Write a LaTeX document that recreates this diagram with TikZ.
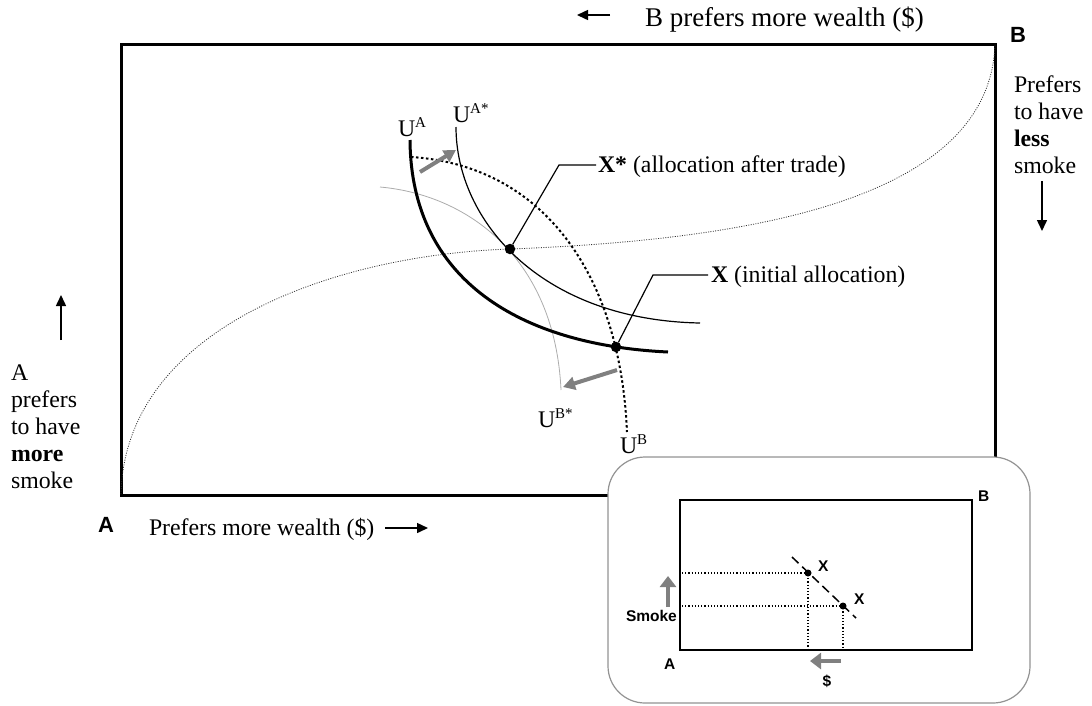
\documentclass[tikz,border=0pt]{standalone}
\usepackage{fontspec}
\setmainfont{Liberation Serif}
\newfontfamily\arialfont{Liberation Sans}
\usetikzlibrary{arrows.meta}
\newcommand\usup[1]{\raisebox{8.5pt}{\fontsize{15}{15}\selectfont #1}}
\begin{document}
\begin{tikzpicture}[x=1pt,y=-1pt,
  every node/.style={inner sep=0pt, outer sep=0pt},
  serif/.style={font=\fontsize{23.8}{27}\selectfont, anchor=base west},
  sanslbl/.style={font=\arialfont\bfseries\fontsize{22}{24}\selectfont, anchor=base west},
  insetlbl/.style={font=\arialfont\bfseries\fontsize{15.5}{17}\selectfont, anchor=base west},
  blackarrow/.style={line width=1.5pt, -{Triangle[length=11pt,width=10pt]}},
  grayarrow/.style={draw=gray, line width=4pt, -{Triangle[length=12pt,width=13pt]}},
  dotnode/.style={circle, fill=black, minimum size=10.5pt},
  smalldot/.style={circle, fill=black, minimum size=7pt},
  contract/.style={line width=0.8pt, dash pattern=on 1pt off 1.4pt, black!80},
  ubdot/.style={line width=2pt, dash pattern=on 2.5pt off 2.5pt},
  leader/.style={line width=1.2pt},
  insetdot/.style={line width=1.1pt, dash pattern=on 1.2pt off 2pt}
]
\useasboundingbox (0,0) rectangle (1092,705);

% main box
\draw[line width=3pt] (121,44) rectangle (995,495);

% dots positions
\coordinate (xsp) at (510,249);
\coordinate (xp) at (616,347);

% contract curve
\draw[contract] (121,494) .. controls (125,330) and (330,255) .. (xsp)
  .. controls (750,240) and (990,200) .. (995,44);

% indifference curves
\draw[gray!65, line width=0.8pt] (380,187) .. controls (470,195) and (555,260) .. (561,390);
\draw[ubdot] (411,157) .. controls (540,165) and (620,270) .. (627,432);
\draw[line width=1.2pt] (456,127) .. controls (456,220) and (540,320) .. (700,323);
\draw[line width=3pt] (410,140) .. controls (411,280) and (520,345) .. (668,352);

% gray shift arrows
\coordinate (ga1s) at (420,172); \coordinate (ga1e) at (456,150);
\coordinate (ga2s) at (617,370); \coordinate (ga2e) at (563,387);
\draw[grayarrow] (ga1s) -- (ga1e);
\draw[grayarrow] (ga2s) -- (ga2e);

% allocation dots
\node[dotnode] (xs) at (xsp) {};
\node[dotnode] (x) at (xp) {};

% curve labels
\node[serif] (ua) at (398,136) {U\usup{A}};
\node[serif] (uas) at (453,122) {U\usup{A*}};
\node[serif] (ubs) at (538,427) {U\usup{B*}};
\node[serif] (ub) at (620,453) {U\usup{B}};

% leader labels
\node[serif] (xslbl) at (598,172) {\textbf{X*} (allocation after trade)};
\node[serif] (xlbl) at (711,282) {\textbf{X} (initial allocation)};
\coordinate (xsk) at (559,165);
\coordinate (xk) at (653,275);
\draw[leader, shorten >=2pt] (xs) -- (xsk) -- (xsk -| xslbl.west);
\draw[leader, shorten >=3pt] (x) -- (xk) -- (xk -| xlbl.west);

% top text
\node[serif, font=\fontsize{27}{29}\selectfont] (btop) at (645,26) {B prefers more wealth (\$)};
\coordinate (tas) at (610,15); \coordinate (tae) at (577,15);
\draw[blackarrow] (tas) -- (tae);
\node[sanslbl] (Blbl) at (1010,42) {B};

% right column
\node[serif] (r1) at (1014,92) {Prefers};
\node[serif] (r2) at (1014,119) {to have};
\node[serif] (r3) at (1014,146) {\textbf{less}};
\node[serif] (r4) at (1014,173) {smoke};
\coordinate (ras) at (1042,181); \coordinate (rae) at (1042,231);
\draw[blackarrow] (ras) -- (rae);

% left column
\coordinate (las) at (61,340); \coordinate (lae) at (61,295);
\draw[blackarrow] (las) -- (lae);
\node[serif] (l1) at (11,380) {A};
\node[serif] (l2) at (11,407) {prefers};
\node[serif] (l3) at (11,434) {to have};
\node[serif] (l4) at (11,461) {\textbf{more}};
\node[serif] (l5) at (11,488) {smoke};

% bottom text
\node[sanslbl] (Alb) at (98,532) {A};
\node[serif] (bot) at (149,535) {Prefers more wealth (\$)};
\coordinate (bas) at (385,528); \coordinate (bae) at (428,528);
\draw[blackarrow] (bas) -- (bae);

% inset
\draw[draw=gray!85, line width=1.2pt, fill=white, rounded corners=37pt] (608,457) rectangle (1030,703);
\draw[line width=2pt] (680,500) rectangle (972,650);
\node[smalldot] (x1) at (808,573) {};
\node[smalldot] (x2) at (843,606) {};
\coordinate (x1l) at (682,573); \coordinate (x1b) at (808,649);
\coordinate (x2l) at (682,606); \coordinate (x2b) at (843,649);
\draw[insetdot] (x1l) -- (x1.center) -- (x1b);
\draw[insetdot] (x2l) -- (x2.center) -- (x2b);
\coordinate (dsh1) at (792,557); \coordinate (dsh2) at (856,618);
\draw[line width=1.5pt, dash pattern=on 9pt off 5pt] (dsh1) -- (dsh2);
\node[insetlbl] (x1t) at (818,571) {X};
\node[insetlbl] (x2t) at (854,604) {X};
\node[insetlbl] (iB) at (978,501) {B};
\node[insetlbl] (iA) at (664,669) {A};
\node[insetlbl] (ism) at (626,621.5) {Smoke};
\node[insetlbl, anchor=base] (idol) at (827,686) {\$};
\coordinate (ius) at (668,607); \coordinate (iue) at (668,576);
\draw[draw=gray, line width=4pt, -{Triangle[length=11pt,width=16pt]}] (ius) -- (iue);
\coordinate (ils) at (841,661); \coordinate (ile) at (810,661);
\draw[draw=gray, line width=4pt, -{Triangle[length=11pt,width=16pt]}] (ils) -- (ile);
\end{tikzpicture}
\end{document}
